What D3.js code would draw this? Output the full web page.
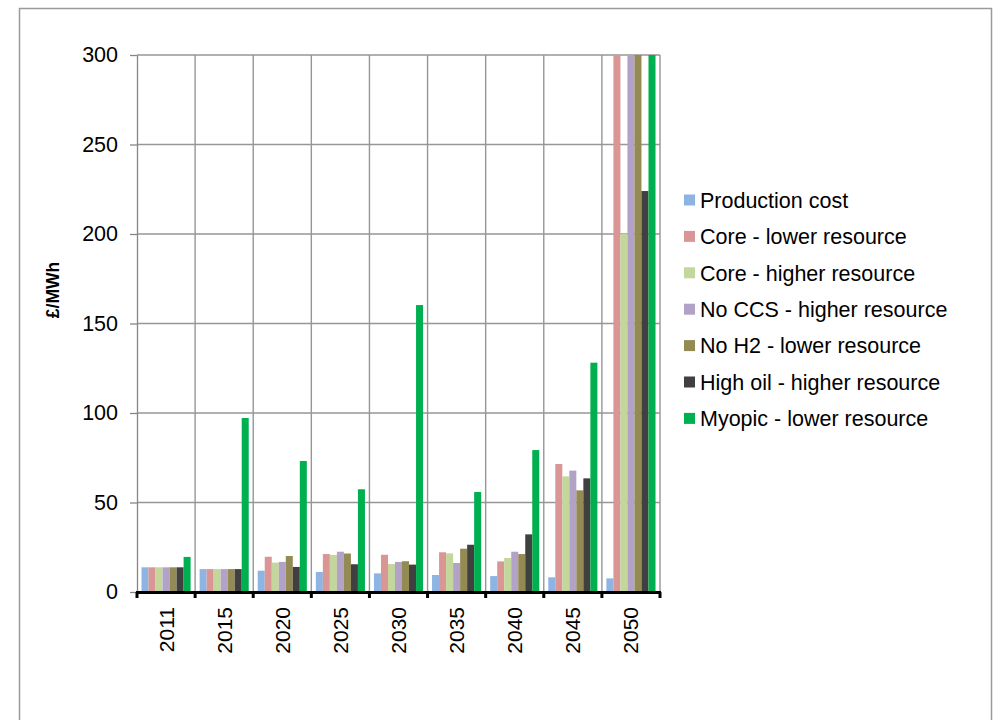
<!DOCTYPE html>
<html>
<head>
<meta charset="utf-8">
<script src="https://cdn.jsdelivr.net/npm/d3@7"></script>
<style>
	body { margin: 0; background: #fff; }
	svg { display: block; font-family: "Liberation Sans", Arial, sans-serif; }
</style>
</head>
<body>
<div id="chart"></div>
<script>
// categories (years)
const years = ["2011", "2015", "2020", "2025", "2030", "2035", "2040", "2045", "2050"];

// series names and colours
const seriesNames = ["Production cost", "Core - lower resource", "Core - higher resource",
	"No CCS - higher resource", "No H2 - lower resource", "High oil - higher resource", "Myopic - lower resource"];
const seriesColors = ["#8EB4E3", "#D99694", "#C3D69B", "#B3A2C7", "#948A54", "#404040", "#00B050"];

// values per series, £/MWh (2050 values above 300 are cut off by the axis)
const productionCost = [13.8, 12.8, 11.9, 11.2, 10.4, 9.5, 8.9, 8.2, 7.6];
const coreLower = [13.8, 12.8, 19.7, 21.2, 20.8, 22.2, 17.1, 71.5, 420];
const coreHigher = [13.8, 12.8, 16.4, 20.7, 15.6, 21.6, 19.0, 64.6, 200];
const noCcsHigher = [13.8, 12.8, 16.8, 22.5, 16.8, 16.2, 22.5, 67.8, 380];
const noH2Lower = [13.8, 12.8, 20.1, 21.5, 17.2, 24.2, 21.2, 56.8, 400];
const highOilHigher = [13.8, 12.8, 14.0, 15.5, 15.3, 26.4, 32.2, 63.5, 224];
const myopicLower = [19.6, 97.2, 73.2, 57.4, 160.3, 55.9, 79.3, 128.1, 450];

const yTicks = [0, 50, 100, 150, 200, 250, 300];

const seriesValues = [productionCost, coreLower, coreHigher, noCcsHigher, noH2Lower, highOilHigher, myopicLower];

const width = 995, height = 720;
const plot = { left: 137, right: 660, top: 55, bottom: 592 };

const svg = d3.select("#chart").append("svg").attr("width", width).attr("height", height);

// outer frame
svg.append("rect")
	.attr("x", 19.5).attr("y", 8.5)
	.attr("width", 972).attr("height", 730)
	.attr("fill", "none").attr("stroke", "#9a9a9a").attr("stroke-width", 1.5);

const x0 = d3.scaleBand().domain(years).range([plot.left, plot.right]).padding(0);
const x1 = d3.scaleBand().domain(seriesNames).range([4.5, x0.bandwidth() - 4.5]).padding(0);
const y = d3.scaleLinear().domain([0, 300]).range([plot.bottom, plot.top]);

// horizontal gridlines
svg.append("g").selectAll("line").data(yTicks.slice(1)).enter().append("line")
	.attr("x1", plot.left).attr("x2", plot.right)
	.attr("y1", d => y(d)).attr("y2", d => y(d))
	.attr("stroke", "#969696").attr("stroke-width", 1.4);

// vertical gridlines on category boundaries
const bounds = years.map(d => x0(d)).concat([plot.right]);
svg.append("g").selectAll("line").data(bounds.slice(1)).enter().append("line")
	.attr("x1", d => d).attr("x2", d => d)
	.attr("y1", plot.top).attr("y2", plot.bottom)
	.attr("stroke", "#969696").attr("stroke-width", 1.4);

// bars, clipped at the top of the axis
svg.append("clipPath").attr("id", "plotclip").append("rect")
	.attr("x", plot.left).attr("y", plot.top)
	.attr("width", plot.right - plot.left).attr("height", plot.bottom - plot.top);

const bars = svg.append("g").attr("clip-path", "url(#plotclip)");
seriesNames.forEach((name, si) => {
	bars.append("g").selectAll("rect").data(seriesValues[si]).enter().append("rect")
		.attr("x", (d, i) => x0(years[i]) + x1(name))
		.attr("width", x1.bandwidth())
		.attr("y", d => y(d))
		.attr("height", d => y(0) - y(d))
		.attr("fill", seriesColors[si]);
});

// y axis
const yAxis = svg.append("g").attr("transform", "translate(" + plot.left + ",0)")
	.call(d3.axisLeft(y).tickValues(yTicks).tickSize(7).tickPadding(12).tickSizeOuter(0));
yAxis.select(".domain").attr("stroke", "#868686").attr("stroke-width", 1.3);
yAxis.selectAll(".tick line").attr("stroke", "#868686").attr("stroke-width", 1.3);
yAxis.selectAll("text").attr("font-size", "21.5px").attr("fill", "#000")
	.attr("font-family", "Liberation Sans, Arial, sans-serif");

// x axis: thick black baseline with boundary ticks
svg.append("line")
	.attr("x1", plot.left - 1).attr("x2", plot.right + 1)
	.attr("y1", plot.bottom + 0.5).attr("y2", plot.bottom + 0.5)
	.attr("stroke", "#000").attr("stroke-width", 3);
svg.append("g").selectAll("line").data(bounds).enter().append("line")
	.attr("x1", d => d).attr("x2", d => d)
	.attr("y1", plot.bottom).attr("y2", plot.bottom + 6)
	.attr("stroke", "#000").attr("stroke-width", 3);

// category labels, rotated
svg.append("g").selectAll("text").data(years).enter().append("text")
	.attr("transform", d => "translate(" + (x0(d) + x0.bandwidth() / 2 + 7.5) + "," + (plot.bottom + 15) + ") rotate(-90)")
	.attr("text-anchor", "end")
	.attr("font-size", "21px")
	.text(d => d);

// y axis title
svg.append("text")
	.attr("transform", "translate(59,290) rotate(-90)")
	.attr("text-anchor", "middle")
	.attr("font-size", "17.5px").attr("font-weight", "bold")
	.text("£/MWh");

// legend
const legend = svg.append("g");
seriesNames.forEach((name, i) => {
	const ly = 200 + i * 36.4;
	legend.append("rect")
		.attr("x", 684).attr("y", ly - 5.5)
		.attr("width", 11).attr("height", 11)
		.attr("fill", seriesColors[i]);
	legend.append("text")
		.attr("x", 700).attr("y", ly)
		.attr("dy", "0.36em")
		.attr("font-size", "21.5px")
		.text(name);
});
</script>
</body>
</html>
